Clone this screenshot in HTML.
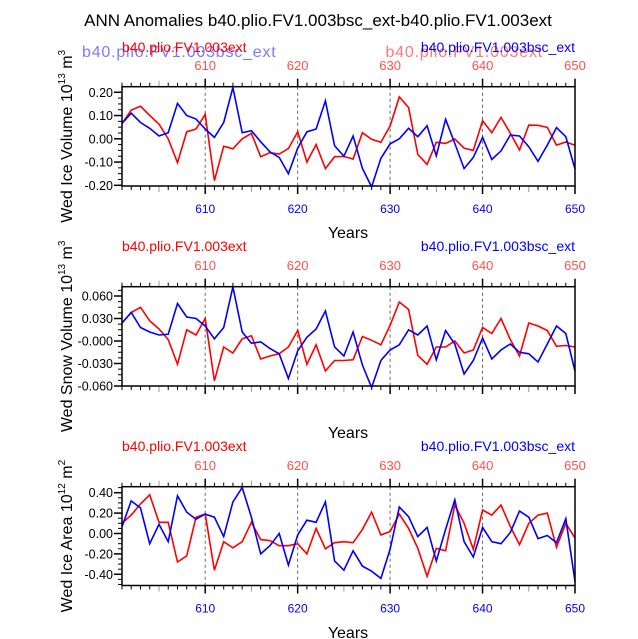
<!DOCTYPE html>
<html><head><meta charset="utf-8"><style>
body{margin:0;background:#fff;}
svg{display:block;font-family:"Liberation Sans",sans-serif;}
</style></head><body>
<svg id="chart" width="638" height="639" viewBox="0 0 638 639" xmlns="http://www.w3.org/2000/svg">
<text x="318" y="26" text-anchor="middle" font-size="17">ANN Anomalies b40.plio.FV1.003bsc_ext-b40.plio.FV1.003ext</text>
<text x="82" y="57" font-size="16" letter-spacing="0.8" fill="#7a7aff">b40.plio.FV1.003bsc_ext</text>
<text x="543" y="57" text-anchor="end" font-size="16" letter-spacing="0.8" fill="#ff7a7a">b40.plio.FV1.003ext</text>
<g id="panels"></g>
</svg>
<script>
const years = [601,602,603,604,605,606,607,608,609,610,611,612,613,614,615,616,617,618,619,620,621,622,623,624,625,626,627,628,629,630,631,632,633,634,635,636,637,638,639,640,641,642,643,644,645,646,647,648,649,650];
const iceVolBsc = [0.066,0.11,0.07,0.045,0.012,0.026,0.152,0.10,0.085,0.042,0.006,0.07,0.22,0.026,0.035,-0.013,-0.056,-0.08,-0.15,-0.04,0.03,0.042,0.163,-0.03,-0.075,0.012,-0.127,-0.207,-0.084,-0.022,0.0,0.045,0.009,0.056,-0.073,0.084,-0.02,-0.128,-0.08,0.006,-0.089,-0.052,0.016,0.012,-0.034,-0.097,-0.027,0.048,0.009,-0.13];
const iceVolExt = [0.066,0.123,0.14,0.10,0.063,0.0,-0.103,0.03,0.042,0.105,-0.18,-0.032,-0.043,0.0,0.023,-0.077,-0.06,-0.066,-0.042,0.03,-0.10,-0.025,-0.128,-0.077,-0.076,-0.087,0.026,-0.002,-0.015,0.055,0.18,0.134,-0.067,-0.11,-0.015,-0.02,-0.001,-0.04,-0.05,0.078,0.026,0.092,0.024,-0.048,0.059,0.058,0.049,-0.027,-0.014,-0.028];
const snowVolBsc = [0.024,0.038,0.018,0.012,0.008,0.009,0.05,0.032,0.030,0.020,0.003,0.018,0.072,0.012,-0.003,-0.001,-0.010,-0.017,-0.050,-0.013,0.005,0.016,0.040,-0.008,-0.020,0.012,-0.032,-0.062,-0.026,-0.012,-0.005,0.015,0.008,0.020,-0.025,0.014,-0.004,-0.044,-0.026,0.004,-0.024,-0.012,-0.004,-0.015,-0.017,-0.028,-0.004,0.020,0.010,-0.040];
const snowVolExt = [0.024,0.038,0.045,0.027,0.016,0.002,-0.031,0.015,0.008,0.030,-0.053,-0.008,-0.016,0.003,0.007,-0.024,-0.020,-0.017,-0.008,0.014,-0.031,-0.005,-0.040,-0.026,-0.026,-0.025,0.006,0.001,-0.005,0.021,0.052,0.042,-0.019,-0.031,-0.008,-0.008,0.000,-0.016,-0.012,0.018,0.010,0.030,0.002,-0.020,0.024,0.020,0.014,-0.007,-0.006,-0.008];
const iceAreaBsc = [0.067,0.32,0.25,-0.10,0.09,-0.08,0.37,0.21,0.14,0.19,0.16,-0.03,0.31,0.45,0.16,-0.20,-0.12,0.0,-0.31,-0.015,0.13,0.11,0.31,-0.27,-0.36,-0.17,-0.32,-0.37,-0.44,-0.155,0.26,0.165,-0.03,0.06,-0.27,0.04,0.33,-0.08,-0.23,0.06,-0.08,-0.10,0.01,0.22,0.16,-0.05,-0.02,-0.09,0.145,-0.47];
const iceAreaExt = [0.10,0.18,0.29,0.38,0.11,0.11,-0.28,-0.22,0.16,0.19,-0.36,-0.08,-0.14,-0.08,0.11,-0.06,-0.07,-0.12,-0.12,-0.10,-0.20,0.05,-0.15,-0.09,-0.08,-0.09,0.04,0.21,-0.015,0.02,0.19,0.05,-0.145,-0.42,-0.145,-0.17,0.28,0.10,-0.155,0.23,0.18,0.28,0.07,-0.11,0.10,0.18,0.20,-0.135,0.10,-0.045];
const xTicks = [610,620,630,640,650];
const iceVolTicks = [0.2,0.1,0,-0.1,-0.2];
const iceVolTickLabels = ["0.20","0.10","0.00","-0.10","-0.20"];
const snowVolTicks = [0.06,0.03,0,-0.03,-0.06];
const snowVolTickLabels = ["0.060","0.030","-0.000","-0.030","-0.060"];
const iceAreaTicks = [0.4,0.2,0,-0.2,-0.4];
const iceAreaTickLabels = ["0.40","0.20","0.00","-0.20","-0.40"];

const NS="http://www.w3.org/2000/svg";
const X0=122,X1=575,XMIN=601,XMAX=650;
function xs(v){return X0+(v-XMIN)/(XMAX-XMIN)*(X1-X0);}
function mk(tag,attrs,parent,text){const e=document.createElementNS(NS,tag);for(const k in attrs)e.setAttribute(k,attrs[k]);if(text!==undefined)e.textContent=text;parent.appendChild(e);return e;}
const root=document.getElementById('panels');

const panels=[
 {id:'ice-volume',top:86.7,bot:186,ymin:-0.203,ymax:0.224,bsc:iceVolBsc,ext:iceVolExt,ticks:iceVolTicks,labels:iceVolTickLabels,minor:0.025,title:'Wed Ice Volume 10',exp1:'13',unit:' m',exp2:'3',labY:52,topLabY:70,botLabels:true,yearsY:238},
 {id:'snow-volume',top:286.7,bot:386,ymin:-0.060,ymax:0.0724,bsc:snowVolBsc,ext:snowVolExt,ticks:snowVolTicks,labels:snowVolTickLabels,minor:0.0075,title:'Wed Snow Volume 10',exp1:'13',unit:' m',exp2:'3',labY:251,topLabY:270,botLabels:false,yearsY:438},
 {id:'ice-area',top:486.7,bot:585.5,ymin:-0.51,ymax:0.459,bsc:iceAreaBsc,ext:iceAreaExt,ticks:iceAreaTicks,labels:iceAreaTickLabels,minor:0.05,title:'Wed Ice Area 10',exp1:'12',unit:' m',exp2:'2',labY:451,topLabY:470,botLabels:true,yearsY:638}
];

panels.forEach(p=>{
 const g=mk('g',{},root);
 
 
 const ys=v=>p.bot-(v-p.ymin)/(p.ymax-p.ymin)*(p.bot-p.top);
 const lr=mk('text',{x:X0,y:p.labY,'font-size':14,fill:'#ff0000'},g,'b40.plio.FV1.003ext');
 
 
 const lb=mk('text',{x:X1,y:p.labY,'font-size':14,fill:'#0000ff','text-anchor':'end'},g,'b40.plio.FV1.003bsc_ext');
 
 
 for(let y=XMIN;y<=XMAX;y++){
   const major=y%10===0, mid=y%5===0;
   const len=major?8:(mid?6:4);
   const x=xs(y);
   mk('line',{x1:x,x2:x,y1:p.top,y2:p.top-len,stroke:mid&&!major?'#999':'#000','stroke-width':major?1.5:1},g);
   mk('line',{x1:x,x2:x,y1:p.bot,y2:p.bot+len,stroke:mid&&!major?'#999':'#000','stroke-width':major?1.5:1},g);
 }
 xTicks.forEach(t=>{
   const x=xs(t);
   const tl=mk('text',{x:x,y:p.topLabY,'font-size':13,fill:'#ff5050','text-anchor':'middle'},g,String(t));
   
   
   if(p.botLabels){
     const bl=mk('text',{x:x,y:p.bot+27,'font-size':12,fill:'#0000ff','text-anchor':'middle'},g,String(t));
     
     
   }
   if(t<650) mk('line',{x1:x,x2:x,y1:p.top,y2:p.bot,stroke:'#666','stroke-width':1,'stroke-dasharray':'3,3'},g);
 });
 for(let v=Math.ceil(p.ymin/p.minor)*p.minor; v<=p.ymax+1e-9; v+=p.minor){
   mk('line',{x1:X0,x2:X0-4,y1:ys(v),y2:ys(v),stroke:'#000','stroke-width':1},g);
 }
 p.ticks.forEach((t,i)=>{
   mk('line',{x1:X0,x2:X0-8,y1:ys(t),y2:ys(t),stroke:'#000','stroke-width':1.5},g);
   const yl=mk('text',{x:X0-9,y:ys(t)+4.5,'font-size':12.5,'text-anchor':'end'},g,p.labels[i]);
   
   
 });
 const pts=arr=>arr.map((v,i)=>xs(years[i]).toFixed(1)+','+ys(v).toFixed(1)).join(' ');
 const red=mk('polyline',{points:pts(p.ext),fill:'none',stroke:'#ff0000','stroke-width':1.6},g);
 
 
 const blue=mk('polyline',{points:pts(p.bsc),fill:'none',stroke:'#0000ff','stroke-width':1.6},g);
 
 
 const fr=mk('rect',{x:X0,y:p.top,width:X1-X0,height:p.bot-p.top,fill:'none',stroke:'#000','stroke-width':1.5},g);
 
 
 const yr=mk('text',{x:348,y:p.yearsY,'font-size':16,'text-anchor':'middle'},g,'Years');
 
 
 const cy=(p.top+p.bot)/2;
 const yt=mk('text',{x:0,y:0,'font-size':16,'text-anchor':'middle',transform:`translate(72,${cy}) rotate(-90)`},g);
 
 
 mk('tspan',{},yt,p.title);
 mk('tspan',{'font-size':10,dy:-7},yt,p.exp1);
 mk('tspan',{dy:7},yt,p.unit);
 mk('tspan',{'font-size':10,dy:-7},yt,p.exp2);
});
</script>
</body></html>
